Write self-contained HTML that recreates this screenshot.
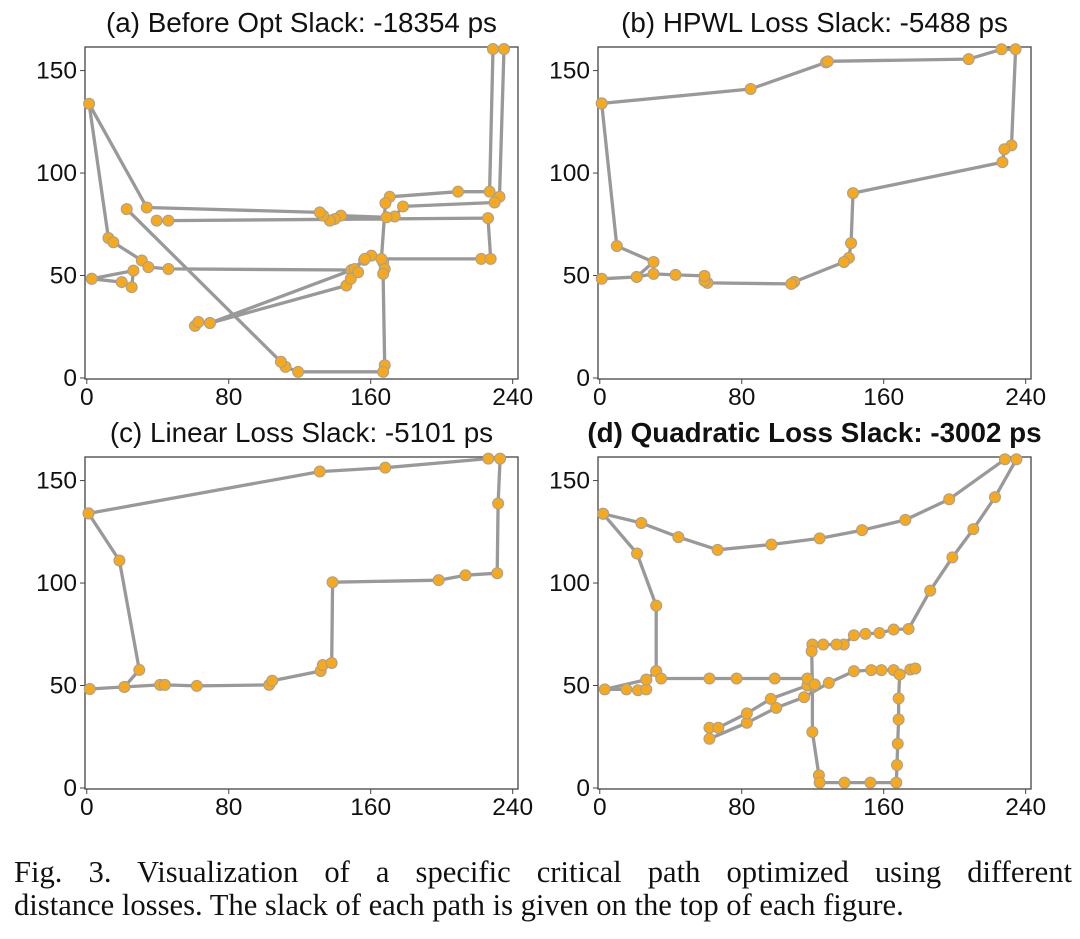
<!DOCTYPE html>
<html><head><meta charset="utf-8"><style>
body{margin:0;background:#fff;width:1080px;height:939px;overflow:hidden;font-family:"Liberation Sans",sans-serif}
.cap{position:absolute;left:14px;font-family:"Liberation Serif",serif;font-size:30.6px;line-height:33px;color:#111;white-space:nowrap}
#cap1{top:856px;width:1058px;text-align:justify;text-align-last:justify;white-space:normal}
#cap2{top:889px}
</style></head><body>
<svg id="chart" width="1080" height="850" style="position:absolute;left:0;top:0"></svg>
<div>
<div class="cap" id="cap1">Fig. 3. Visualization of a specific critical path optimized using different</div>
<div class="cap" id="cap2">distance losses. The slack of each path is given on the top of each figure.</div>
</div>
<script>
const titles=["(a) Before Opt Slack: -18354 ps","(b) HPWL Loss Slack: -5488 ps","(c) Linear Loss Slack: -5101 ps","(d) Quadratic Loss Slack: -3002 ps"];
const xTicks=[0,80,160,240];
const yTicks=[0,50,100,150];
const aX=[235.1,232.6,229.8,178.2,173.5,168.9,143.2,139.8,137,133.2,131.3,33.8,1.3,12.2,15,31,34.7,46,149.2,156.3,160.4,167,167.9,167,167.9,167,119.1,112,109.4,22.5,null,228.9,227,209.2,170.7,168.3,166,222.3,227.6,226.1,46,39.4,null,2.8,26.3,25.3,19.7,2.8,null,61,62.9,69.4,151,156.7,null,69.4,146.3,148.8,152.9];
const aY=[160.5,88.4,85.6,83.7,78.8,78.4,79.2,77.6,76.8,79.2,80.8,83.2,133.8,68.3,66.2,57.3,54.1,53.2,52.7,57.6,59.7,56.5,53.2,50.8,6.2,3,3,5.4,7.9,82.4,null,160.5,90.9,90.9,88.4,85.3,58.1,58.1,58.1,78,76.8,76.8,null,48.4,52.4,44.3,46.8,48.4,null,25.4,27.3,26.8,53.2,58.1,null,26.8,45.1,48.4,51.6];
const bX=[1.1,85,127.5,128.5,207.9,226.4,234.3,232,228,226.9,142.7,141.6,140.4,137.6,109.6,107.9,60.7,59,59,42.7,30.3,20.8,1.1,null,1.1,9.6,30.3,20.8];
const bY=[134,141,154,154.5,155.6,160.4,160.4,113.5,111.6,105.3,90.2,65.8,58.6,56.6,46.9,45.9,46.4,47.4,49.8,50.3,50.8,49.3,48.4,null,134,64.4,56.6,49.3];
const cX=[1,18.4,29.6,21.2,1.7,null,21.2,41.3,44,62,102.8,104.5,131.8,133,138,138.5,198.3,213.4,231.3,231.8,232.9,226.3,168.2,131.3,1];
const cY=[134,111,57.6,49.3,48.3,null,49.3,50.3,50.3,49.8,50.3,52.3,57.1,60,61,100.4,101.4,103.8,104.8,138.8,160.7,160.7,156.3,154.4,134];
const dX=[1.9,23.4,44.3,66.4,96.7,123.9,147.8,172.2,196.9,228.3,234.8,222.7,210.5,198.7,186.2,174,165.6,157.6,149.7,143.2,137.5,133.4,125.9,119.8,119.4,119.8,119.8,123.5,123.9,137.9,152.5,167.1,167.5,167.9,168.4,168.4,169,165.6,158.7,153,143.2,129.1,115.1,99.4,82.9,61.8,null,61.8,66.8,82.9,96.4,117,121.1,null,1.9,21,31.8,31.8,26.2,2.8,15,21.5,26.2,26.2,null,31.8,34.6,61.8,77.1,98.6,117,121.1,null,169,175,177.8];
const dY=[133.8,129.3,122.4,116.2,118.8,121.8,125.8,130.8,140.9,160.4,160.4,141.9,126.3,112.5,96.3,77.6,77.3,75.6,75.2,74.5,70,70,70,70,66.7,49.7,27.3,6.2,2.6,2.6,2.6,2.6,11.2,21.6,33.4,43.7,55.4,57.5,57.5,57.5,57,51.3,44.3,39.1,31.8,24,null,29.4,29.4,36.4,43.5,50,50.5,null,133.8,114.4,89,57,52.9,48.1,48.1,47.7,48.1,52.9,null,57,53.4,53.4,53.4,53.4,53.4,50.5,null,55.4,57.8,58.3];
const panels=[{l:85,t:47,xs:aX,ys:aY},{l:598,t:47,xs:bX,ys:bY},{l:85,t:457,xs:cX,ys:cY},{l:598,t:457,xs:dX,ys:dY}];
const W=433,H=332,XMIN=-1,XMAX=243,YMIN=-0.5,YMAX=161.5;
const NS="http://www.w3.org/2000/svg";
const svg=document.getElementById('chart');
function mk(tag,attrs,parent){const e=document.createElementNS(NS,tag);for(const k in attrs)e.setAttribute(k,attrs[k]);parent.appendChild(e);return e;}
panels.forEach((p,i)=>{
  const g=mk('g',{},svg);
  
  
  const sx=v=>p.l+(v-XMIN)/(XMAX-XMIN)*W;
  const sy=v=>p.t+H-(v-YMIN)/(YMAX-YMIN)*H;
  const fr=mk('rect',{x:p.l,y:p.t,width:W,height:H,fill:'#fff',stroke:'#444','stroke-width':1.3},g);
  
  
  const tt=mk('text',{x:p.l+W/2,y:p.t-15,'text-anchor':'middle','font-size':27.8,'font-weight':i==3?'bold':'normal',fill:'#111'},g);
  tt.textContent=titles[i];
  
  
  xTicks.forEach(v=>{const x=sx(v);mk('line',{x1:x,x2:x,y1:p.t+H,y2:p.t+H+5,stroke:'#444'},g);
    const t=mk('text',{x:x,y:p.t+H+26,'text-anchor':'middle','font-size':24.5,fill:'#111'},g);t.textContent=v;
    
    });
  yTicks.forEach(v=>{const y=sy(v);mk('line',{x1:p.l-5,x2:p.l,y1:y,y2:y,stroke:'#444'},g);
    const t=mk('text',{x:p.l-8,y:y+8,'text-anchor':'end','font-size':24.5,fill:'#111'},g);t.textContent=v;
    
    });
  let d='',pen=false;
  for(let k=0;k<p.xs.length;k++){if(p.xs[k]===null){pen=false;continue;}d+=(pen?'L':'M')+sx(p.xs[k]).toFixed(1)+' '+sy(p.ys[k]).toFixed(1);pen=true;}
  const path=mk('path',{d:d,fill:'none',stroke:'#999','stroke-width':3.3,'stroke-linejoin':'round'},g);
  
  
  for(let k=0;k<p.xs.length;k++){if(p.xs[k]===null)continue;
    const c=mk('circle',{cx:sx(p.xs[k]),cy:sy(p.ys[k]),r:5.5,fill:'#f7a81b',stroke:'#a0a0a0','stroke-width':1},g);
    
    }
});
</script>
</body></html>
